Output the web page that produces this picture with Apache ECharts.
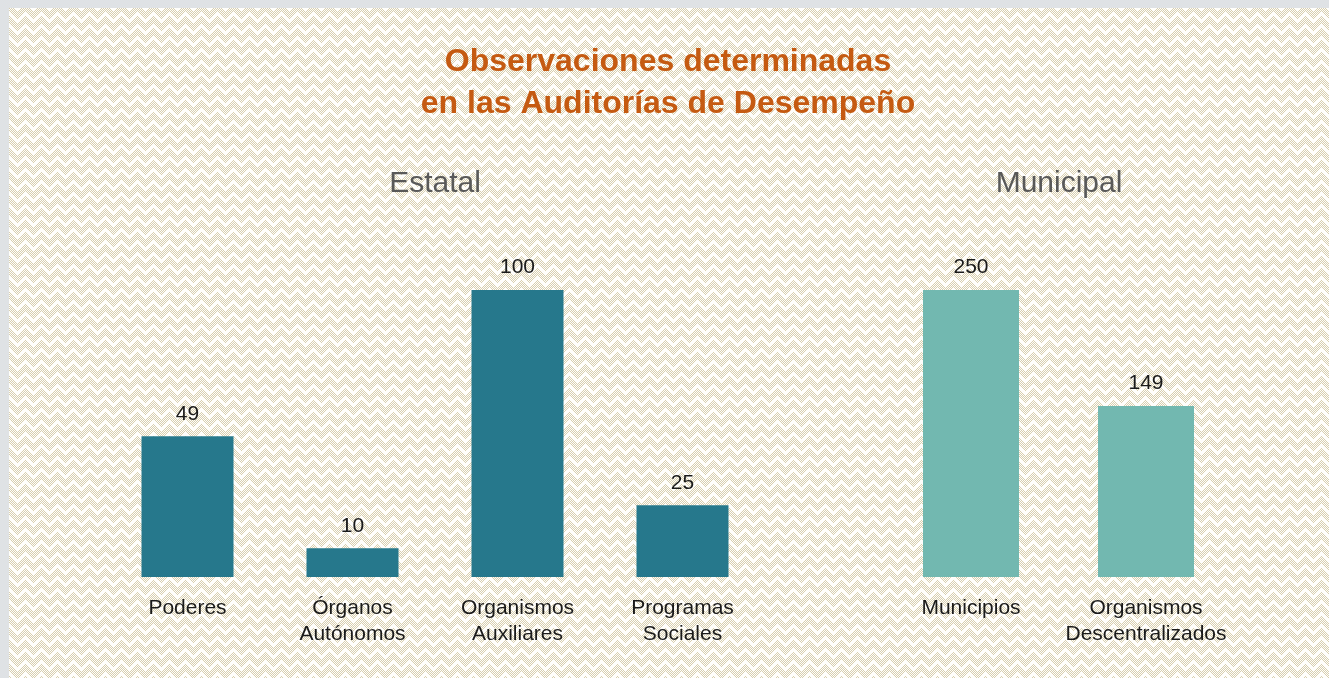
<!DOCTYPE html>
<html>
<head>
<meta charset="utf-8">
<script src="https://cdn.jsdelivr.net/npm/echarts@6/dist/echarts.min.js"></script>
<style>
  html, body { margin: 0; padding: 0; background: #dfe2e5; }
  #main { position: absolute; left: 9px; top: 8px; width: 1320px; height: 670px; }
</style>
</head>
<body>
<div id="main"></div>
<script>
// datos
const estatalCats = ['Poderes', 'Órganos\nAutónomos', 'Organismos\nAuxiliares', 'Programas\nSociales'];
const estatalVals = [49, 10, 100, 25];
const municipalCats = ['Municipios', 'Organismos\nDescentralizados'];
const municipalVals = [250, 149];

// fondo con patrón en zigzag
function makePattern() {
  const c = document.createElement('canvas');
  c.width = 16; c.height = 12;
  const ctx = c.getContext('2d');
  ctx.fillStyle = '#fffefb';
  ctx.fillRect(0, 0, 16, 12);
  ctx.fillStyle = '#d8cfb0';
  for (let x = 0; x < 16; x++) {
    for (let y = 0; y < 12; y++) {
      const z = (y + Math.abs((x % 16) - 8)) % 12;
      if ((x + y) % 2 === 0 && z > 2) ctx.fillRect(x, y, 1, 1);
    }
  }
  return c;
}

const chart = echarts.init(document.getElementById('main'));

const labelStyle = {
  fontFamily: 'Liberation Sans',
  fontSize: 21,
  color: '#1a1a1a'
};

chart.setOption({
  backgroundColor: { image: makePattern(), repeat: 'repeat' },
  title: [
    {
      text: 'Observaciones determinadas\nen las Auditorías de Desempeño',
      left: 654, top: 28, textAlign: 'center',
      textStyle: { fontFamily: 'Liberation Sans', fontWeight: 'bold', fontSize: 32, lineHeight: 42, color: '#c55a11' }
    },
    {
      text: 'Estatal', left: 421, top: 156, textAlign: 'center',
      textStyle: { fontFamily: 'Liberation Sans', fontWeight: 'normal', fontSize: 30, color: '#595959' }
    },
    {
      text: 'Municipal', left: 1045, top: 156, textAlign: 'center',
      textStyle: { fontFamily: 'Liberation Sans', fontWeight: 'normal', fontSize: 30, color: '#595959' }
    }
  ],
  grid: [
    { left: 96, width: 660, top: 282, height: 287 },
    { left: 874.5, width: 350, top: 282, height: 287 }
  ],
  xAxis: [
    {
      type: 'category', gridIndex: 0, data: estatalCats,
      axisLine: { show: false }, axisTick: { show: false },
      axisLabel: Object.assign({ margin: 18, lineHeight: 26, interval: 0 }, labelStyle)
    },
    {
      type: 'category', gridIndex: 1, data: municipalCats,
      axisLine: { show: false }, axisTick: { show: false },
      axisLabel: Object.assign({ margin: 18, lineHeight: 26, interval: 0 }, labelStyle)
    }
  ],
  yAxis: [
    { type: 'value', gridIndex: 0, min: 0, max: 100, show: false },
    { type: 'value', gridIndex: 1, min: 0, max: 250, show: false }
  ],
  series: [
    {
      type: 'bar', xAxisIndex: 0, yAxisIndex: 0, data: estatalVals,
      barWidth: 92,
      itemStyle: { color: '#26788c' },
      label: Object.assign({ show: true, position: 'top', distance: 12 }, labelStyle)
    },
    {
      type: 'bar', xAxisIndex: 1, yAxisIndex: 1, data: municipalVals,
      barWidth: 96,
      itemStyle: { color: '#72b8b0' },
      label: Object.assign({ show: true, position: 'top', distance: 12 }, labelStyle)
    }
  ]
});
</script>
</body>
</html>
